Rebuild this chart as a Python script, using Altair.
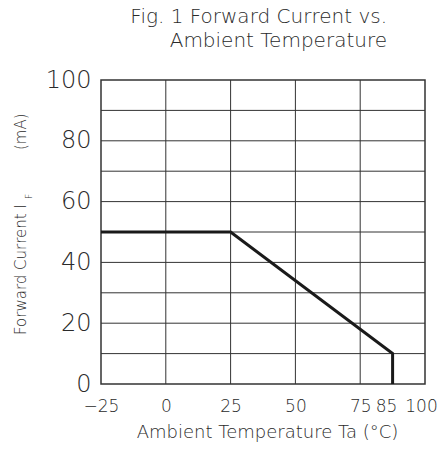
import altair as alt
import pandas as pd

# Data
curve_temp = [-25, 25, 87.5, 87.5]
curve_current = [50, 50, 10, 0]

x_tick_labels = [-25, 0, 25, 50, 75, 85, 100]
y_tick_labels = [0, 20, 40, 60, 80, 100]
x_grid = [0, 25, 50, 75]
y_grid = [10, 20, 30, 40, 50, 60, 70, 80, 90]

title_lines = ["Fig. 1 Forward Current vs.", "Ambient Temperature"]

FONT = "DejaVu Sans"
INK = "#2a2a2a"

curve = pd.DataFrame({"t": curve_temp, "i": curve_current, "order": range(len(curve_temp))})
vgrid = pd.DataFrame({"t": x_grid})
hgrid = pd.DataFrame({"i": y_grid})

xscale = alt.Scale(domain=[-25, 100], nice=False, zero=False)
yscale = alt.Scale(domain=[0, 100], nice=False)

xaxis = alt.Axis(values=x_tick_labels, grid=False, ticks=False, domain=False,
                 labelFont=FONT, labelFontSize=17, labelFontWeight=200, labelColor=INK,
                 labelPadding=14, labelFlush=False,
                 labelOffset={"condition": {"test": "datum.value == 100", "value": -4}, "value": 0},
                 title="Ambient Temperature  Ta (°C)", titleFont=FONT, titleFontSize=18,
                 titleFontWeight=200, titleColor=INK, titleX=166, titleY=53,
                 titleBaseline="alphabetic", titleAlign="center", titleAnchor="middle")
yaxis = alt.Axis(values=y_tick_labels, grid=False, ticks=False, domain=False,
                 labelFont=FONT, labelFontSize=24, labelFontWeight=200, labelColor=INK,
                 labelPadding=10, labelFlush=False, title=None)

vrules = alt.Chart(vgrid).mark_rule(color="#333333", strokeWidth=1).encode(
    x=alt.X("t:Q", scale=xscale, axis=xaxis)
)
hrules = alt.Chart(hgrid).mark_rule(color="#333333", strokeWidth=1).encode(
    y=alt.Y("i:Q", scale=yscale, axis=yaxis)
)
line = alt.Chart(curve).mark_line(color="#1a1a1a", strokeWidth=3, strokeJoin="miter").encode(
    x=alt.X("t:Q", scale=xscale),
    y=alt.Y("i:Q", scale=yscale),
    order="order:Q",
)


def label(text, size, x, y, angle=0, align="left", font=FONT):
    return alt.Chart(pd.DataFrame({"s": [text]})).mark_text(
        font=font, fontSize=size, fontWeight=200, color=INK, angle=angle,
        align=align, baseline="alphabetic"
    ).encode(text="s:N", x=alt.value(x), y=alt.value(y))


ytitle_main = label("Forward Current I", 15, -75, 255, angle=270)
ytitle_sub = label("F", 9, -69, 119, angle=270)
ytitle_unit = label("(mA)", 15, -75, 70, angle=270)
title1 = label(title_lines[0], 20, 286, -57, align="right")
title2 = label(title_lines[1], 20, 286, -33, align="right")

chart = alt.layer(vrules, hrules, line, ytitle_main, ytitle_sub, ytitle_unit, title1, title2).properties(
    width=324, height=304,
    autosize="none",
    padding={"left": 93, "top": 72, "right": 12, "bottom": 62},
).configure_view(stroke="#333333", strokeWidth=1.5)

chart.save("out.html", embed_options={"renderer": "svg", "actions": False})
